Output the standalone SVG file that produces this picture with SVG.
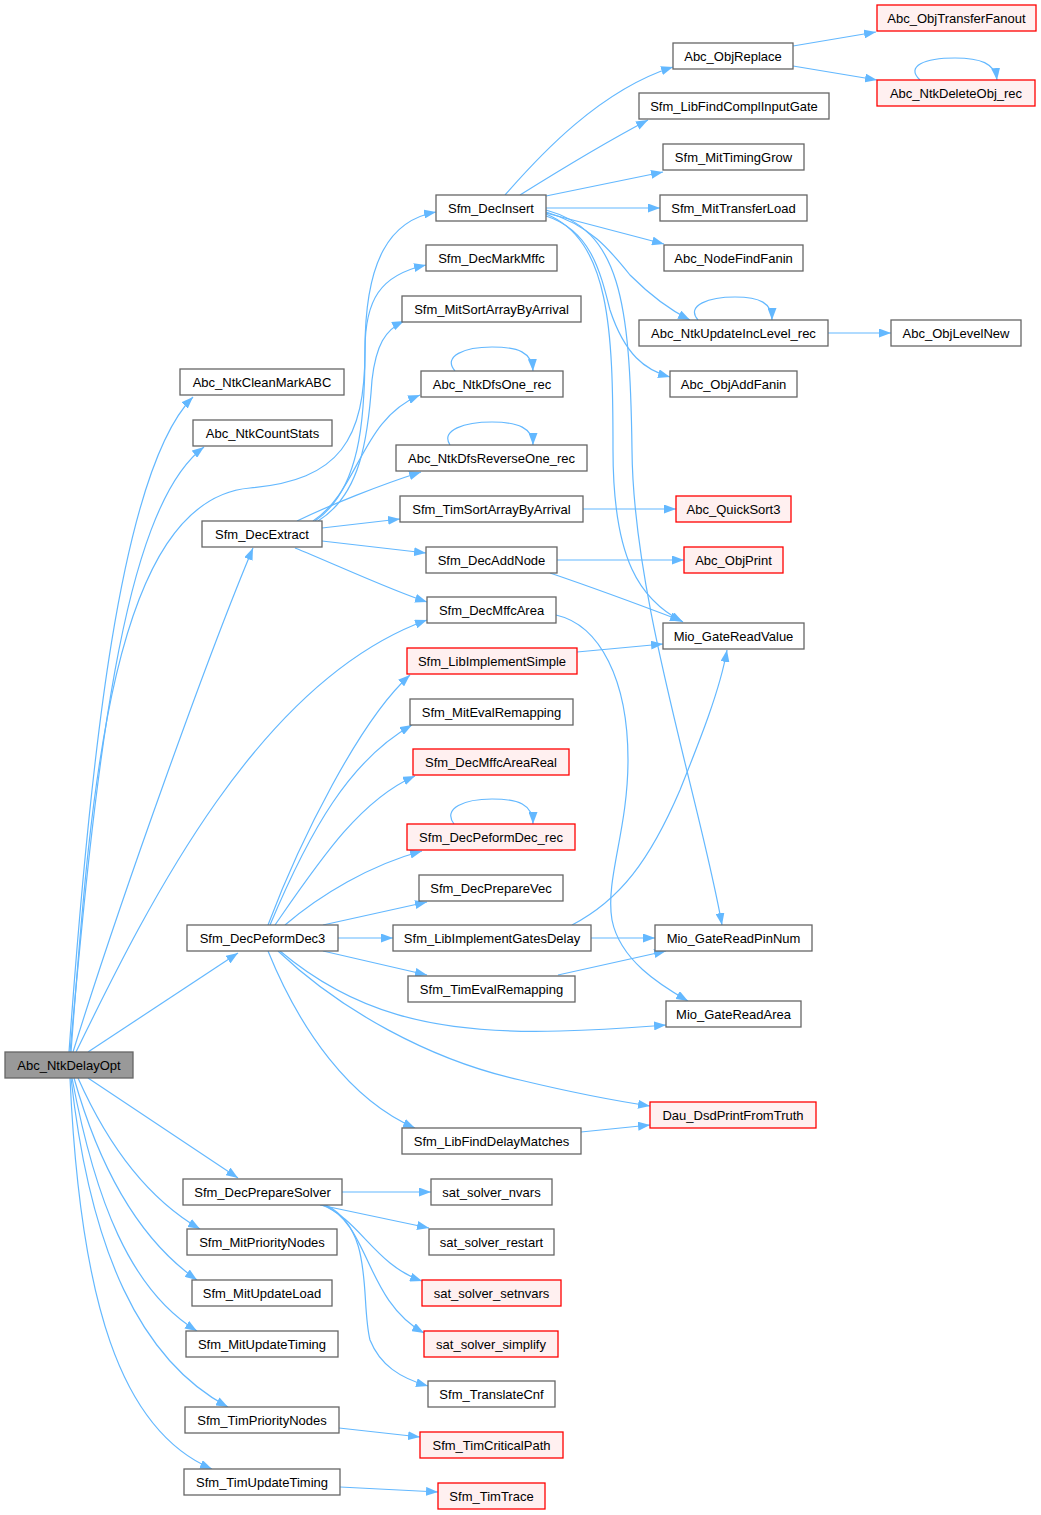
<svg xmlns="http://www.w3.org/2000/svg" width="1041" height="1515" viewBox="0 0 1041 1515">
<style>
.n rect{fill:#fff;stroke:#666;stroke-width:1.3}
.r rect{fill:#fff0f0;stroke:#ff0000;stroke-width:1.3}
.root rect{fill:#999;stroke:#666;stroke-width:1.3}
text{font-family:"Liberation Sans",Arial,sans-serif;font-size:13px;fill:#000;text-anchor:middle}
#edges path{fill:none;stroke:#63b8ff;stroke-width:1.2;marker-end:url(#ah)}
</style>
<defs>
<marker id="ah" viewBox="0 0 12 9" refX="12" refY="4.5" markerWidth="12" markerHeight="9" markerUnits="userSpaceOnUse" orient="auto">
<path d="M0,0 L12,4.5 L0,9 z" fill="#63b8ff" stroke="none"/>
</marker>
</defs>
<rect width="1041" height="1515" fill="#fff"/>
<g id="edges">
<path d="M69,1052 C90,760 120,470 193,397"/>
<path d="M70,1052 C95,780 120,510 204,447"/>
<path d="M71,1052 C90,800 110,500 250,488 C340,480 365,440 365,350 C365,260 390,220 436,212"/>
<path d="M73,1052 C120,900 210,650 253,548"/>
<path d="M76,1052 C150,900 260,680 427,620"/>
<path d="M88,1052 L238,953"/>
<path d="M88,1078 L238,1178"/>
<path d="M78,1078 C110,1150 150,1200 200,1229"/>
<path d="M74,1078 C100,1170 140,1240 197,1280"/>
<path d="M72,1078 C95,1200 130,1290 197,1331"/>
<path d="M71,1078 C90,1250 140,1360 228,1407"/>
<path d="M70,1078 C80,1300 120,1430 212,1469"/>
<path d="M315,521 C360,490 365,420 365,350 C365,300 380,275 426,265"/>
<path d="M318,521 C360,495 368,440 372,380 C376,345 385,330 404,321"/>
<path d="M313,521 C360,490 360,420 420,395"/>
<path d="M297,521 C330,505 380,485 421,472"/>
<path d="M322,528 L400,519"/>
<path d="M322,541 L426,553"/>
<path d="M295,548 C330,562 390,590 427,602"/>
<path d="M505,195 C540,155 600,90 673,67"/>
<path d="M520,195 C560,170 610,140 648,120"/>
<path d="M546,196 L663,172"/>
<path d="M546,208 L660,208"/>
<path d="M546,213 L664,244"/>
<path d="M546,212 C590,225 610,250 630,275 C650,295 670,310 690,320"/>
<path d="M546,216 C590,230 600,270 610,310 C625,355 645,370 670,377"/>
<path d="M546,214 C610,240 613,330 613,450 C613,560 640,600 683,622"/>
<path d="M546,210 C620,230 630,300 632,450 C633,600 700,800 722,925"/>
<path d="M556,615 C600,625 628,680 628,760 C628,830 605,880 612,920 C620,960 660,985 688,1001"/>
<path d="M572,925 C620,900 650,860 680,790 C700,740 720,690 727,650"/>
<path d="M793,46 L876,32"/>
<path d="M793,66 L877,80"/>
<path d="M920,80 C905,66 925,58 955,58 C980,58 995,63 997,80"/>
<path d="M698,320 C685,305 710,297 735,297 C760,297 772,303 772,320"/>
<path d="M828,333 L891,333"/>
<path d="M455,371 C442,356 465,347 492,347 C518,347 532,352 533,371"/>
<path d="M450,445 C440,430 465,422 492,422 C518,422 533,428 533,445"/>
<path d="M583,509 L676,509"/>
<path d="M557,560 L684,560"/>
<path d="M550,573 C600,590 640,605 682,621"/>
<path d="M577,652 L663,644"/>
<path d="M454,824 C442,808 465,799 492,799 C518,799 533,804 533,824"/>
<path d="M268,925 C300,840 360,720 410,675"/>
<path d="M270,925 C310,830 350,760 412,725"/>
<path d="M275,925 C320,860 360,800 415,776"/>
<path d="M285,925 C320,895 370,865 422,851"/>
<path d="M323,925 L427,902"/>
<path d="M338,938 L393,938"/>
<path d="M323,951 L427,975"/>
<path d="M280,951 C350,1010 430,1035 560,1031 C610,1030 640,1027 666,1025"/>
<path d="M278,951 C340,1010 430,1060 520,1080 C570,1092 610,1100 650,1106"/>
<path d="M268,951 C300,1030 350,1100 415,1128"/>
<path d="M591,938 L655,938"/>
<path d="M558,975 L666,951"/>
<path d="M581,1132 L650,1125"/>
<path d="M342,1192 L431,1192"/>
<path d="M320,1205 L429,1228"/>
<path d="M322,1205 C360,1220 375,1265 422,1281"/>
<path d="M324,1205 C370,1225 365,1300 424,1333"/>
<path d="M326,1205 C375,1230 360,1300 370,1340 C380,1365 400,1378 428,1386"/>
<path d="M339,1428 L420,1437"/>
<path d="M340,1487 L438,1492"/>
</g>
<g id="Abc_ObjTransferFanout" class="r"><rect x="877" y="5" width="159" height="26"/><text x="956.5" y="22.5">Abc_ObjTransferFanout</text></g>
<g id="Abc_ObjReplace" class="n"><rect x="673" y="43" width="120" height="26"/><text x="733" y="60.5">Abc_ObjReplace</text></g>
<g id="Abc_NtkDeleteObj_rec" class="r"><rect x="877" y="80" width="158" height="26"/><text x="956" y="97.5">Abc_NtkDeleteObj_rec</text></g>
<g id="Sfm_LibFindComplInputGate" class="n"><rect x="639" y="93" width="190" height="26"/><text x="734" y="110.5">Sfm_LibFindComplInputGate</text></g>
<g id="Sfm_MitTimingGrow" class="n"><rect x="663" y="144" width="141" height="26"/><text x="733.5" y="161.5">Sfm_MitTimingGrow</text></g>
<g id="Sfm_DecInsert" class="n"><rect x="436" y="195" width="110" height="26"/><text x="491" y="212.5">Sfm_DecInsert</text></g>
<g id="Sfm_MitTransferLoad" class="n"><rect x="660" y="195" width="147" height="26"/><text x="733.5" y="212.5">Sfm_MitTransferLoad</text></g>
<g id="Sfm_DecMarkMffc" class="n"><rect x="426" y="245" width="131" height="26"/><text x="491.5" y="262.5">Sfm_DecMarkMffc</text></g>
<g id="Abc_NodeFindFanin" class="n"><rect x="664" y="245" width="139" height="26"/><text x="733.5" y="262.5">Abc_NodeFindFanin</text></g>
<g id="Sfm_MitSortArrayByArrival" class="n"><rect x="402" y="296" width="179" height="26"/><text x="491.5" y="313.5">Sfm_MitSortArrayByArrival</text></g>
<g id="Abc_NtkUpdateIncLevel_rec" class="n"><rect x="639" y="320" width="189" height="26"/><text x="733.5" y="337.5">Abc_NtkUpdateIncLevel_rec</text></g>
<g id="Abc_ObjLevelNew" class="n"><rect x="891" y="320" width="130" height="26"/><text x="956" y="337.5">Abc_ObjLevelNew</text></g>
<g id="Abc_NtkCleanMarkABC" class="n"><rect x="180" y="369" width="164" height="26"/><text x="262" y="386.5">Abc_NtkCleanMarkABC</text></g>
<g id="Abc_NtkDfsOne_rec" class="n"><rect x="421" y="371" width="142" height="26"/><text x="492" y="388.5">Abc_NtkDfsOne_rec</text></g>
<g id="Abc_ObjAddFanin" class="n"><rect x="670" y="371" width="127" height="26"/><text x="733.5" y="388.5">Abc_ObjAddFanin</text></g>
<g id="Abc_NtkCountStats" class="n"><rect x="193" y="420" width="139" height="26"/><text x="262.5" y="437.5">Abc_NtkCountStats</text></g>
<g id="Abc_NtkDfsReverseOne_rec" class="n"><rect x="396" y="445" width="191" height="26"/><text x="491.5" y="462.5">Abc_NtkDfsReverseOne_rec</text></g>
<g id="Sfm_TimSortArrayByArrival" class="n"><rect x="400" y="496" width="183" height="26"/><text x="491.5" y="513.5">Sfm_TimSortArrayByArrival</text></g>
<g id="Abc_QuickSort3" class="r"><rect x="676" y="496" width="115" height="26"/><text x="733.5" y="513.5">Abc_QuickSort3</text></g>
<g id="Sfm_DecExtract" class="n"><rect x="202" y="521" width="120" height="26"/><text x="262" y="538.5">Sfm_DecExtract</text></g>
<g id="Sfm_DecAddNode" class="n"><rect x="426" y="547" width="131" height="26"/><text x="491.5" y="564.5">Sfm_DecAddNode</text></g>
<g id="Abc_ObjPrint" class="r"><rect x="684" y="547" width="99" height="26"/><text x="733.5" y="564.5">Abc_ObjPrint</text></g>
<g id="Sfm_DecMffcArea" class="n"><rect x="427" y="597" width="129" height="26"/><text x="491.5" y="614.5">Sfm_DecMffcArea</text></g>
<g id="Mio_GateReadValue" class="n"><rect x="663" y="623" width="141" height="26"/><text x="733.5" y="640.5">Mio_GateReadValue</text></g>
<g id="Sfm_LibImplementSimple" class="r"><rect x="407" y="648" width="170" height="26"/><text x="492" y="665.5">Sfm_LibImplementSimple</text></g>
<g id="Sfm_MitEvalRemapping" class="n"><rect x="410" y="699" width="163" height="26"/><text x="491.5" y="716.5">Sfm_MitEvalRemapping</text></g>
<g id="Sfm_DecMffcAreaReal" class="r"><rect x="413" y="749" width="156" height="26"/><text x="491" y="766.5">Sfm_DecMffcAreaReal</text></g>
<g id="Sfm_DecPeformDec_rec" class="r"><rect x="407" y="824" width="168" height="26"/><text x="491" y="841.5">Sfm_DecPeformDec_rec</text></g>
<g id="Sfm_DecPrepareVec" class="n"><rect x="419" y="875" width="144" height="26"/><text x="491" y="892.5">Sfm_DecPrepareVec</text></g>
<g id="Sfm_DecPeformDec3" class="n"><rect x="187" y="925" width="151" height="26"/><text x="262.5" y="942.5">Sfm_DecPeformDec3</text></g>
<g id="Sfm_LibImplementGatesDelay" class="n"><rect x="393" y="925" width="198" height="26"/><text x="492" y="942.5">Sfm_LibImplementGatesDelay</text></g>
<g id="Mio_GateReadPinNum" class="n"><rect x="655" y="925" width="157" height="26"/><text x="733.5" y="942.5">Mio_GateReadPinNum</text></g>
<g id="Sfm_TimEvalRemapping" class="n"><rect x="408" y="976" width="167" height="26"/><text x="491.5" y="993.5">Sfm_TimEvalRemapping</text></g>
<g id="Mio_GateReadArea" class="n"><rect x="666" y="1001" width="135" height="26"/><text x="733.5" y="1018.5">Mio_GateReadArea</text></g>
<g id="Abc_NtkDelayOpt" class="root"><rect x="5" y="1052" width="128" height="26"/><text x="69" y="1069.5">Abc_NtkDelayOpt</text></g>
<g id="Dau_DsdPrintFromTruth" class="r"><rect x="650" y="1102" width="166" height="26"/><text x="733" y="1119.5">Dau_DsdPrintFromTruth</text></g>
<g id="Sfm_LibFindDelayMatches" class="n"><rect x="402" y="1128" width="179" height="26"/><text x="491.5" y="1145.5">Sfm_LibFindDelayMatches</text></g>
<g id="Sfm_DecPrepareSolver" class="n"><rect x="183" y="1179" width="159" height="26"/><text x="262.5" y="1196.5">Sfm_DecPrepareSolver</text></g>
<g id="sat_solver_nvars" class="n"><rect x="431" y="1179" width="121" height="26"/><text x="491.5" y="1196.5">sat_solver_nvars</text></g>
<g id="Sfm_MitPriorityNodes" class="n"><rect x="187" y="1229" width="150" height="26"/><text x="262" y="1246.5">Sfm_MitPriorityNodes</text></g>
<g id="sat_solver_restart" class="n"><rect x="429" y="1229" width="125" height="26"/><text x="491.5" y="1246.5">sat_solver_restart</text></g>
<g id="Sfm_MitUpdateLoad" class="n"><rect x="192" y="1280" width="140" height="26"/><text x="262" y="1297.5">Sfm_MitUpdateLoad</text></g>
<g id="sat_solver_setnvars" class="r"><rect x="422" y="1280" width="139" height="26"/><text x="491.5" y="1297.5">sat_solver_setnvars</text></g>
<g id="Sfm_MitUpdateTiming" class="n"><rect x="186" y="1331" width="152" height="26"/><text x="262" y="1348.5">Sfm_MitUpdateTiming</text></g>
<g id="sat_solver_simplify" class="r"><rect x="424" y="1331" width="134" height="26"/><text x="491" y="1348.5">sat_solver_simplify</text></g>
<g id="Sfm_TranslateCnf" class="n"><rect x="428" y="1381" width="127" height="26"/><text x="491.5" y="1398.5">Sfm_TranslateCnf</text></g>
<g id="Sfm_TimPriorityNodes" class="n"><rect x="185" y="1407" width="154" height="26"/><text x="262" y="1424.5">Sfm_TimPriorityNodes</text></g>
<g id="Sfm_TimCriticalPath" class="r"><rect x="420" y="1432" width="143" height="26"/><text x="491.5" y="1449.5">Sfm_TimCriticalPath</text></g>
<g id="Sfm_TimUpdateTiming" class="n"><rect x="184" y="1469" width="156" height="26"/><text x="262" y="1486.5">Sfm_TimUpdateTiming</text></g>
<g id="Sfm_TimTrace" class="r"><rect x="438" y="1483" width="107" height="26"/><text x="491.5" y="1500.5">Sfm_TimTrace</text></g>
</svg>
